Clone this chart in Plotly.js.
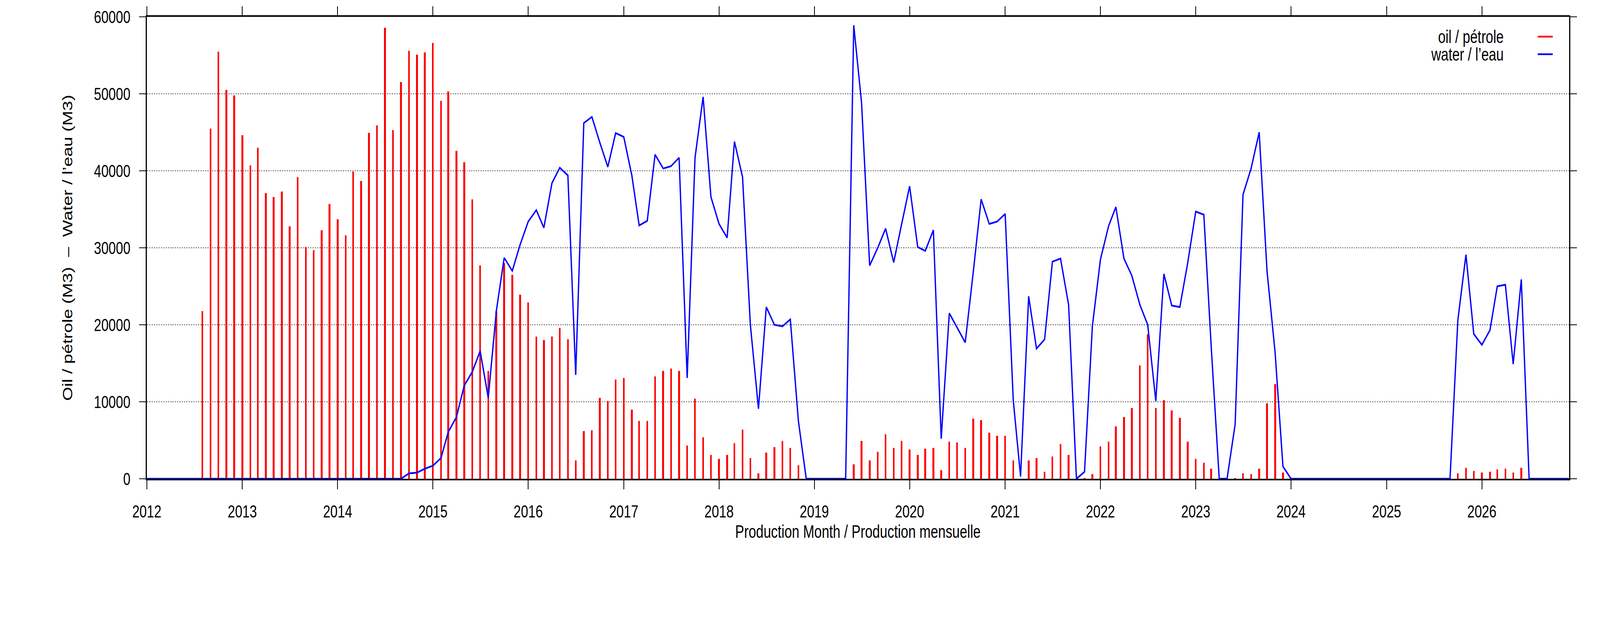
<!DOCTYPE html>
<html>
<head>
<meta charset="utf-8">
<script src="https://cdn.plot.ly/plotly-3.0.1.min.js"></script>
<style>
  html, body { margin: 0; padding: 0; background: #fff; overflow: hidden; }
  #wrap { width: 5483px; height: 1594px; transform-origin: 0 0; }
  #graph { width: 5483px; height: 1594px; }
</style>
</head>
<body>
<div id="wrap"><div id="graph"></div></div>
<script>
// monthly production, first value is January 2012, one row per year
var firstYear = 2012;

var oil = [
  0, 0, 0, 0, 0, 0, 0, 21800, 45500, 55500, 50500, 49800,                       // 2012
  44600, 40700, 43000, 37100, 36600, 37300, 32800, 39200, 30100, 29700, 32300, 35700, // 2013
  33700, 31600, 39900, 38700, 44900, 45900, 58600, 45300, 51500, 55600, 55100, 55400, // 2014
  56600, 49100, 50300, 42600, 41100, 36300, 27700, 14000, 21800, 28000, 26500, 23900, // 2015
  22900, 18500, 18000, 18500, 19600, 18100, 2400, 6200, 6300, 10500, 10100, 12900,    // 2016
  13100, 9000, 7500, 7500, 13300, 14000, 14300, 14000, 4300, 10400, 5400, 3100,       // 2017
  2600, 3100, 4600, 6400, 2700, 700, 3400, 4100, 4900, 4000, 1800, 0,                 // 2018
  0, 0, 0, 0, 0, 1900, 4900, 2400, 3500, 5800, 4000, 4900,                            // 2019
  3800, 3100, 3900, 4000, 1100, 4800, 4700, 4000, 7800, 7600, 6000, 5600,             // 2020
  5600, 2400, 0, 2400, 2700, 900, 2900, 4500, 3100, 0, 100, 600,                      // 2021
  4200, 4800, 6800, 8000, 9200, 14700, 18800, 9200, 10200, 8900, 7900, 4800,          // 2022
  2600, 2100, 1300, 0, 0, 100, 700, 600, 1300, 9800, 12300, 800,                      // 2023
  0, 0, 0, 0, 0, 0, 0, 0, 0, 0, 0, 0,                                                 // 2024
  0, 0, 0, 0, 0, 0, 0, 0, 0, 700, 1400, 1000,                                         // 2025
  800, 900, 1200, 1300, 800, 1400, 0, 0, 0, 0, 0, 0                                   // 2026
];

var water = [
  0, 0, 0, 0, 0, 0, 0, 0, 0, 0, 0, 0,                                                 // 2012
  0, 0, 0, 0, 0, 0, 0, 0, 0, 0, 0, 0,                                                 // 2013
  0, 0, 0, 0, 0, 0, 0, 0, 0, 700, 800, 1300,                                          // 2014
  1700, 2700, 6100, 8000, 12100, 13900, 16600, 10500, 21800, 28700, 27000, 30400,     // 2015
  33400, 34900, 32600, 38400, 40400, 39400, 13500, 46200, 47000, 43700, 40500, 44900, // 2016
  44400, 39400, 32900, 33500, 42100, 40300, 40600, 41700, 13100, 41700, 49600, 36600, // 2017
  33100, 31300, 43800, 39200, 20000, 9100, 22300, 20000, 19800, 20700, 7500, 0,       // 2018
  0, 0, 0, 0, 0, 58900, 48800, 27700, 30000, 32500, 28100, 33000,                     // 2019
  38000, 30100, 29600, 32300, 5200, 21500, 19600, 17700, 26900, 36300, 33100, 33400,  // 2020
  34400, 10200, 300, 23700, 16900, 18100, 28200, 28600, 22600, 0, 900, 19800,         // 2021
  28500, 32800, 35300, 28600, 26400, 22600, 20000, 10100, 26600, 22500, 22300, 28000, // 2022
  34700, 34300, 17300, 0, 0, 7100, 36900, 40300, 45000, 27000, 16400, 1600,           // 2023
  0, 0, 0, 0, 0, 0, 0, 0, 0, 0, 0, 0,                                                 // 2024
  0, 0, 0, 0, 0, 0, 0, 0, 0, 20600, 29100, 18800,                                     // 2025
  17400, 19300, 25000, 25200, 14900, 25900, 0, 0, 0, 0, 0, 0                          // 2026
];

var oilName = 'oil / pétrole';
var waterName = 'water / l’eau';
var xTitle = 'Production Month / Production mensuelle';
var yTitle = 'Oil / pétrole (M3)\u00a0\u00a0–\u00a0\u00a0Water / l’eau (M3)';

// first day of every month, matching the value arrays
var months = [];
for (var i = 0; i < water.length; i++) {
    var y = firstYear + Math.floor(i / 12);
    var m = (i % 12) + 1;
    months.push(y + '-' + (m < 10 ? '0' + m : m) + '-01');
}

var FONT = 'Liberation Sans, Arial, Helvetica, sans-serif';
var DAY = 86400000;

var trace1 = {
    x: months,
    y: oil,
    type: 'bar',
    name: oilName,
    width: 6.7 * DAY,            // thin impulses, ~6px
    marker: { color: '#ff0000', line: { width: 0 } },
    showlegend: false
};

var trace2 = {
    x: months,
    y: water,
    type: 'scatter',
    mode: 'lines',
    name: waterName,
    line: { color: '#0000ff', width: 4.5 },
    showlegend: false
};

var data = [trace1, trace2];

// gnuplot style key: text on the left, sample line on the right
var keyRows = [
    { text: oilName, color: '#ff0000', y: 0.957 },
    { text: waterName, color: '#0000ff', y: 0.919 }
];
var annotations = [];
var shapes = [];
keyRows.forEach(function (k) {
    annotations.push({
        xref: 'paper', yref: 'paper', x: 0.9545, y: k.y,
        xanchor: 'right', yanchor: 'middle', showarrow: false,
        text: k.text, font: { family: FONT, size: 46, color: '#000' }
    });
    shapes.push({
        type: 'line', xref: 'paper', yref: 'paper',
        x0: 0.978, x1: 0.9885, y0: k.y, y1: k.y,
        line: { color: k.color, width: 4.5 }
    });
});

var layout = {
    width: 5483,
    height: 1594,
    margin: { l: 503, r: 106, t: 43, b: 369, pad: 0 },
    paper_bgcolor: '#fff',
    plot_bgcolor: '#fff',
    font: { family: FONT, size: 45, color: '#000' },
    bargap: 0,
    xaxis: {
        type: 'date',
        range: ['2012-01-01', '2026-12-01'],
        tick0: '2012-01-01',
        dtick: 'M12',
        tickformat: '%Y',
        ticks: 'outside',
        ticklen: 23,
        tickwidth: 2.5,
        tickcolor: '#000',
        ticklabelstandoff: 18,
        showline: true,
        linewidth: 4,
        linecolor: '#000',
        mirror: 'ticks',
        showgrid: false,
        zeroline: false,
        tickfont: { family: FONT, size: 45 },
        title: { text: xTitle, font: { family: FONT, size: 46 }, standoff: 12 },
        automargin: true
    },
    yaxis: {
        range: [0, 60000],
        tick0: 0,
        dtick: 10000,
        tickformat: 'd',
        ticks: 'outside',
        ticklen: 23,
        tickwidth: 2.5,
        tickcolor: '#000',
        ticklabelstandoff: 20,
        showline: true,
        linewidth: 4,
        linecolor: '#000',
        mirror: 'ticks',
        showgrid: true,
        gridcolor: '#555',
        gridwidth: 1.5,
        griddash: '4px,4px',
        zeroline: false,
        tickfont: { family: FONT, size: 45 },
        title: { text: yTitle, font: { family: FONT, size: 46 }, standoff: 60 },
        automargin: true
    },
    annotations: annotations,
    shapes: shapes
};

// the page is laid out at 5483x1594, then fitted to the viewport we get
var sx = window.innerWidth / 5483;
var sy = window.innerHeight / 1594;
document.getElementById('wrap').style.transform = 'scale(' + sx + ',' + sy + ')';

Plotly.newPlot('graph', data, layout, { staticPlot: true });
</script>
</body>
</html>
